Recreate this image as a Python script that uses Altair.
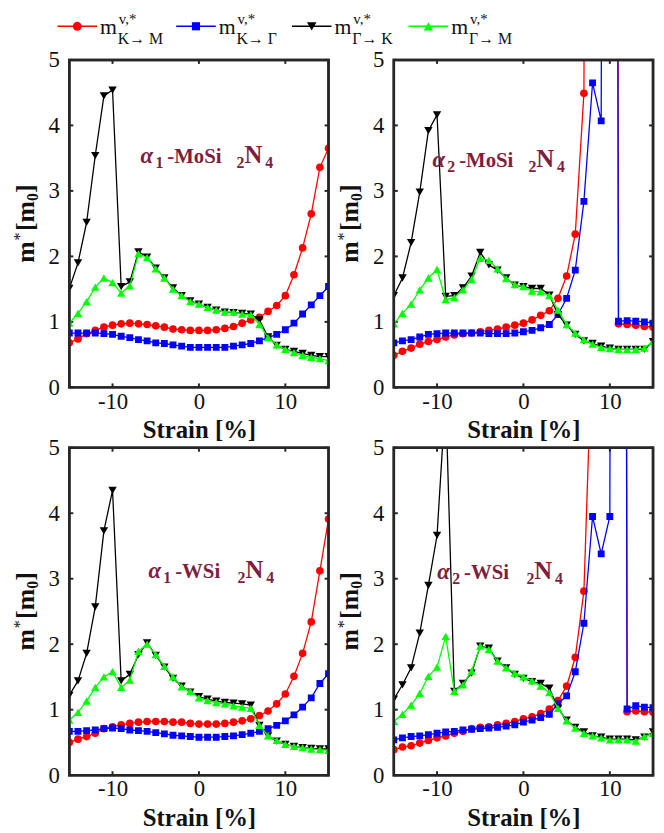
import altair as alt
import pandas as pd

# ---------------- data ----------------
strain = list(range(-15, 16))
x_ticks = [-10, 0, 10]
y_ticks = [0, 1, 2, 3, 4, 5]

series_keys = ["KM", "KG", "GK", "GM"]
series_colors = ["#FF0000", "#0000FF", "#000000", "#00FF00"]
series_shapes = ["circle", "square", "triangle-down", "triangle-up"]
series_sizes = [60, 48, 72, 72]
legend_sub = ["K\u2192 M", "K\u2192 \u0393", "\u0393\u2192 K", "\u0393\u2192 M"]

# alpha1-MoSi2N4
a1_mo_KM = [0.68, 0.74, 0.82, 0.87, 0.92, 0.95, 0.97, 0.98, 0.97, 0.96, 0.94, 0.92, 0.89, 0.88, 0.87, 0.87,
            0.87, 0.88, 0.90, 0.93, 0.98, 1.03, 1.07, 1.16, 1.25, 1.40, 1.72, 2.13, 2.65, 3.36, 3.65]
a1_mo_KG = [0.83, 0.83, 0.83, 0.83, 0.82, 0.81, 0.78, 0.76, 0.73, 0.71, 0.68, 0.67, 0.65, 0.63, 0.61, 0.61,
            0.61, 0.61, 0.61, 0.63, 0.65, 0.67, 0.71, 0.76, 0.81, 0.88, 0.98, 1.12, 1.26, 1.40, 1.54]
a1_mo_GK = [1.51, 1.90, 2.52, 3.54, 4.45, 4.54, 1.54, 1.61, 2.07, 1.99, 1.82, 1.67, 1.52, 1.40, 1.32, 1.27,
            1.22, 1.18, 1.15, 1.14, 1.13, 1.12, 1.03, 0.77, 0.64, 0.58, 0.55, 0.52, 0.49, 0.47, 0.47]
a1_mo_GM = [0.98, 1.13, 1.31, 1.53, 1.67, 1.60, 1.44, 1.55, 2.04, 1.98, 1.81, 1.67, 1.50, 1.40, 1.31, 1.27,
            1.22, 1.18, 1.15, 1.15, 1.12, 1.11, 0.96, 0.76, 0.65, 0.58, 0.53, 0.49, 0.46, 0.44, 0.41]

# alpha2-MoSi2N4
a2_mo_KM = [0.49, 0.55, 0.60, 0.66, 0.70, 0.73, 0.77, 0.80, 0.82, 0.83, 0.85, 0.87, 0.89, 0.92, 0.95, 0.98,
            1.03, 1.10, 1.17, 1.36, 1.70, 2.34, 4.49, 40.0, 60.0, 80.0, 0.97, 0.96, 0.95, 0.93, 0.92]
a2_mo_KG = [0.68, 0.71, 0.73, 0.77, 0.81, 0.82, 0.83, 0.83, 0.83, 0.83, 0.83, 0.82, 0.82, 0.82, 0.83, 0.85,
            0.87, 0.91, 0.96, 1.11, 1.36, 1.79, 2.84, 4.65, 4.07, 60.0, 1.01, 1.02, 1.01, 1.00, 0.98]
a2_mo_GK = [1.40, 1.67, 2.21, 2.98, 3.92, 4.16, 1.39, 1.40, 1.52, 1.70, 2.06, 1.87, 1.79, 1.67, 1.56, 1.54,
            1.51, 1.51, 1.41, 1.11, 0.95, 0.81, 0.71, 0.67, 0.63, 0.60, 0.58, 0.58, 0.58, 0.58, 0.70]
a2_mo_GM = [0.97, 1.13, 1.27, 1.49, 1.67, 1.80, 1.34, 1.37, 1.49, 1.65, 1.97, 1.94, 1.81, 1.66, 1.57, 1.54,
            1.47, 1.46, 1.40, 1.18, 0.96, 0.83, 0.73, 0.66, 0.61, 0.59, 0.58, 0.58, 0.58, 0.60, 0.70]

# alpha1-WSi2N4
a1_w_KM = [0.50, 0.55, 0.59, 0.64, 0.71, 0.74, 0.77, 0.79, 0.81, 0.82, 0.82, 0.82, 0.81, 0.81, 0.79, 0.78,
           0.78, 0.78, 0.79, 0.81, 0.83, 0.86, 0.91, 0.98, 1.09, 1.24, 1.51, 1.86, 2.34, 3.12, 3.91]
a1_w_KG = [0.67, 0.67, 0.68, 0.69, 0.71, 0.72, 0.71, 0.69, 0.68, 0.67, 0.65, 0.63, 0.61, 0.60, 0.59, 0.58,
           0.58, 0.58, 0.59, 0.60, 0.62, 0.64, 0.67, 0.71, 0.76, 0.83, 0.92, 1.04, 1.18, 1.40, 1.55]
a1_w_GK = [1.22, 1.44, 1.86, 2.57, 3.73, 4.35, 1.44, 1.54, 1.84, 2.02, 1.83, 1.65, 1.48, 1.36, 1.27, 1.20,
           1.16, 1.13, 1.11, 1.10, 1.09, 1.07, 0.76, 0.60, 0.52, 0.47, 0.44, 0.42, 0.41, 0.40, 0.40]
a1_w_GM = [0.84, 0.96, 1.13, 1.34, 1.50, 1.58, 1.34, 1.45, 1.89, 2.00, 1.84, 1.66, 1.50, 1.35, 1.28, 1.18,
           1.14, 1.11, 1.09, 1.06, 1.04, 1.02, 0.76, 0.60, 0.53, 0.47, 0.44, 0.42, 0.40, 0.39, 0.38]

# alpha2-WSi2N4
a2_w_KM = [0.39, 0.43, 0.45, 0.49, 0.53, 0.57, 0.60, 0.64, 0.67, 0.71, 0.73, 0.74, 0.77, 0.79, 0.82, 0.86,
           0.89, 0.94, 1.01, 1.14, 1.36, 1.80, 2.81, 6.80, 40.0, 60.0, 80.0, 0.97, 0.98, 0.97, 0.96]
a2_w_KG = [0.54, 0.57, 0.59, 0.60, 0.62, 0.64, 0.66, 0.67, 0.69, 0.70, 0.71, 0.72, 0.73, 0.75, 0.77, 0.81,
           0.84, 0.88, 0.93, 1.09, 1.21, 1.58, 2.32, 3.95, 3.38, 3.95, 60.0, 1.01, 1.06, 1.04, 1.03]
a2_w_GK = [1.16, 1.38, 1.64, 2.17, 2.90, 3.66, 5.80, 1.28, 1.40, 1.56, 1.97, 1.94, 1.74, 1.64, 1.54, 1.48,
           1.43, 1.40, 1.33, 1.02, 0.84, 0.73, 0.66, 0.60, 0.58, 0.55, 0.55, 0.55, 0.54, 0.58, 0.66]
a2_w_GM = [0.82, 0.93, 1.07, 1.25, 1.51, 1.65, 2.12, 1.28, 1.38, 1.59, 1.97, 1.92, 1.74, 1.64, 1.56, 1.50,
           1.44, 1.36, 1.26, 1.02, 0.83, 0.72, 0.64, 0.60, 0.57, 0.54, 0.54, 0.54, 0.52, 0.59, 0.64]

panels = [
    {"series": [a1_mo_KM, a1_mo_KG, a1_mo_GK, a1_mo_GM], "phase": "1", "metal": "-MoSi",
     "anchor": (72, 104), "offs": [0, 15, 27, 97, 105, 126]},
    {"series": [a2_mo_KM, a2_mo_KG, a2_mo_GK, a2_mo_GM], "phase": "2", "metal": "-MoSi",
     "anchor": (39, 108), "offs": [0, 15, 27, 97, 105, 126]},
    {"series": [a1_w_KM, a1_w_KG, a1_w_GK, a1_w_GM], "phase": "1", "metal": "-WSi",
     "anchor": (80, 132), "offs": [0, 15, 27, 90, 98, 119]},
    {"series": [a2_w_KM, a2_w_KG, a2_w_GK, a2_w_GM], "phase": "2", "metal": "-WSi",
     "anchor": (44, 133), "offs": [0, 15, 27, 90, 98, 119]},
]

# ---------------- style ----------------
W, H = 262, 331
FONT = "Liberation Serif"
FRAME = "#262626"
INK = "#111111"
LABEL_COLOR = "#7E1E3E"
TICK = 4
one = pd.DataFrame({"k": [0]})

X = alt.X("strain:Q",
          scale=alt.Scale(domain=[-15, 15], nice=False, zero=False),
          axis=alt.Axis(values=x_ticks, title="Strain [%]", ticks=False, tickSize=0, domain=False,
                        grid=False, labelFontSize=23, labelPadding=3, labelExpr="datum.value + ''",
                        titleFontSize=25, titleFontWeight="bold", titlePadding=5,
                        labelColor=INK, titleColor=INK, labelFlush=False,
                        labelFont=FONT, titleFont=FONT))
Y = alt.Y("m:Q",
          scale=alt.Scale(domain=[0, 5], nice=False, zero=True),
          axis=alt.Axis(values=y_ticks, title="", ticks=False, tickSize=0, domain=False,
                        grid=False, labelFontSize=23, labelPadding=10, labelColor=INK,
                        labelFlush=False, labelFont=FONT))


def txt(text, x, y, size, **kw):
    return alt.Chart(one).mark_text(text=text, fontSize=size, font=FONT, **kw).encode(
        x=alt.value(x), y=alt.value(y))


def panel(p, with_legend=False):
    layers = []
    # inward ticks on all four sides
    xt = pd.DataFrame({"strain": x_ticks})
    yt = pd.DataFrame({"m": y_ticks})
    layers.append(alt.Chart(xt).mark_rule(color=FRAME, strokeWidth=2).encode(
        x=X, y=alt.value(H), y2=alt.value(H - TICK)))
    layers.append(alt.Chart(xt).mark_rule(color=FRAME, strokeWidth=2).encode(
        x=X, y=alt.value(0), y2=alt.value(TICK)))
    layers.append(alt.Chart(yt).mark_rule(color=FRAME, strokeWidth=2).encode(
        y=Y, x=alt.value(0), x2=alt.value(TICK)))
    layers.append(alt.Chart(yt).mark_rule(color=FRAME, strokeWidth=2).encode(
        y=Y, x=alt.value(W), x2=alt.value(W - TICK)))
    # series, drawn in order red, blue, black, green
    for vals, col, shp, sz in zip(p["series"], series_colors, series_shapes, series_sizes):
        df = pd.DataFrame({"strain": strain, "m": vals})
        layers.append(alt.Chart(df).mark_line(color=col, strokeWidth=1.3, clip=True).encode(x=X, y=Y))
        layers.append(alt.Chart(df).mark_point(color=col, shape=shp, size=sz, filled=True, opacity=1,
                                               clip=True).encode(x=X, y=Y))
    # axes box on top
    layers.append(alt.Chart(one).mark_rect(fillOpacity=0, stroke=FRAME, strokeWidth=2.5).encode(
        x=alt.value(0), x2=alt.value(W), y=alt.value(0), y2=alt.value(H)))
    # compound label  alpha_n-XSi_2N_4
    ax, ay = p["anchor"]
    o = p["offs"]
    pieces = [("\u03b1", 0, 23, "italic"), (p["phase"], 5, 16, "normal"), (p["metal"], 0, 21, "normal"),
              ("2", 5, 16, "normal"), ("N", 0, 25, "normal"), ("4", 5, 16, "normal")]
    for (t, dy, sz, st), off in zip(pieces, o):
        layers.append(txt(t, ax + off, ay + dy, sz, align="left", baseline="alphabetic",
                          fontWeight="bold", fontStyle=st, color=LABEL_COLOR))
    # y-axis title  m*[m0]  (rotated, reading upward)
    common = dict(angle=270, align="left", baseline="alphabetic", color=INK)
    layers.append(txt("m", -36, 205, 26, fontWeight="bold", **common))
    layers.append(txt("*", -45, 182.5, 16, **common))
    layers.append(txt("[m", -36, 173, 26, fontWeight="bold", **common))
    layers.append(txt("0", -32, 142.5, 16, fontWeight="bold", **common))
    layers.append(txt("]", -36, 134.5, 26, fontWeight="bold", **common))

    if with_legend:
        # invisible anchor fixing the top-left corner of the figure
        layers.append(alt.Chart(one).mark_rule(strokeOpacity=0, color="white").encode(
            x=alt.value(-60), x2=alt.value(0), y=alt.value(-60)))
        starts = [-12, 108, 225, 343]
        for s, col, shp, sz, sub in zip(starts, series_colors, series_shapes, series_sizes, legend_sub):
            layers.append(alt.Chart(one).mark_rule(color=col, strokeWidth=1.5).encode(
                x=alt.value(s), x2=alt.value(s + 40), y=alt.value(-34)))
            layers.append(alt.Chart(one).mark_point(color=col, shape=shp, size=sz + 20, filled=True,
                                                    opacity=1).encode(x=alt.value(s + 20), y=alt.value(-34)))
            layers.append(txt("m", s + 43, -26, 22, align="left", baseline="alphabetic", color=INK))
            layers.append(txt("v,*", s + 62, -36, 15, align="left", baseline="alphabetic", color=INK))
            layers.append(txt(sub, s + 61, -16, 16, align="left", baseline="alphabetic", color=INK))

    return alt.layer(*layers).properties(width=W, height=H)


charts = [panel(p, with_legend=(i == 0)) for i, p in enumerate(panels)]

chart = alt.concat(*charts, columns=2, spacing={"row": 61, "column": 66}, bounds="flush").properties(
    padding={"left": 0, "top": -14, "right": 0, "bottom": 0},
    background="white",
).configure_view(
    stroke=FRAME, strokeWidth=2.5
).configure_axis(
    labelFont=FONT, titleFont=FONT
)

chart.save("out.html", embed_options={"renderer": "svg", "actions": False})
